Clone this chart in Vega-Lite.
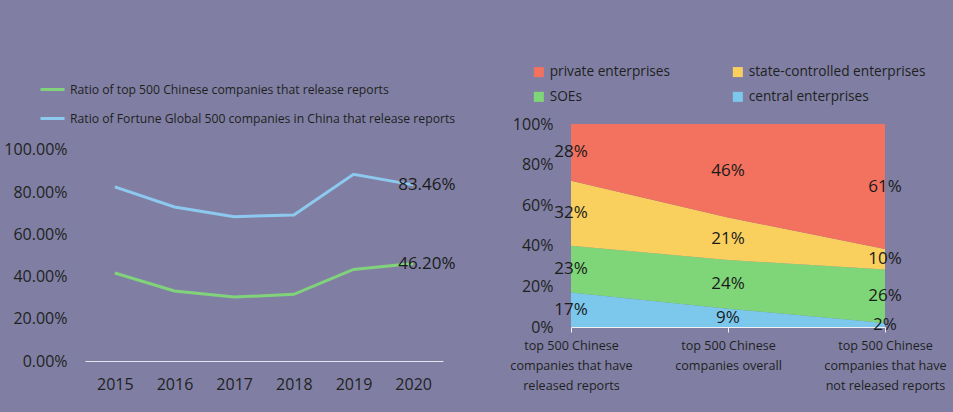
{
  "$schema": "https://vega.github.io/schema/vega-lite/v6.json",
  "background": "#807FA3",
  "padding": {"left": 3, "top": 65, "right": 8, "bottom": 35},
  "spacing": 53,
  "resolve": {"scale": {"color": "independent", "y": "independent"}, "legend": {"color": "independent"}},
  "config": {
    "view": {"stroke": null},
    "font": "Open Sans",
    "axis": {"labelColor": "#1f1f1f", "grid": false, "title": null},
    "legend": {"labelColor": "#1f1f1f", "title": null}
  },
  "hconcat": [
    {
      "width": 358,
      "height": 237,
      "data": {
        "values": [
          {"year": 2015, "series": "Ratio of top 500 Chinese companies that release reports", "ratio": 0.417},
          {"year": 2016, "series": "Ratio of top 500 Chinese companies that release reports", "ratio": 0.332},
          {"year": 2017, "series": "Ratio of top 500 Chinese companies that release reports", "ratio": 0.303},
          {"year": 2018, "series": "Ratio of top 500 Chinese companies that release reports", "ratio": 0.316},
          {"year": 2019, "series": "Ratio of top 500 Chinese companies that release reports", "ratio": 0.434},
          {"year": 2020, "series": "Ratio of top 500 Chinese companies that release reports", "ratio": 0.462},
          {"year": 2015, "series": "Ratio of Fortune Global 500 companies in China that release reports", "ratio": 0.825},
          {"year": 2016, "series": "Ratio of Fortune Global 500 companies in China that release reports", "ratio": 0.730},
          {"year": 2017, "series": "Ratio of Fortune Global 500 companies in China that release reports", "ratio": 0.684},
          {"year": 2018, "series": "Ratio of Fortune Global 500 companies in China that release reports", "ratio": 0.692},
          {"year": 2019, "series": "Ratio of Fortune Global 500 companies in China that release reports", "ratio": 0.885},
          {"year": 2020, "series": "Ratio of Fortune Global 500 companies in China that release reports", "ratio": 0.8346}
        ]
      },
      "encoding": {
        "x": {
          "field": "year", "type": "ordinal",
          "axis": {"labelAngle": 0, "labelFontSize": 16, "labelPadding": 15, "ticks": false, "domainColor": "#e4e4ec"}
        },
        "y": {
          "field": "ratio", "type": "quantitative",
          "scale": {"domain": [0, 1.1232]},
          "axis": {"values": [0, 0.2, 0.4, 0.6, 0.8, 1], "format": ".2%", "labelFontSize": 16, "labelPadding": 18, "domain": false, "ticks": false}
        }
      },
      "layer": [
        {
          "mark": {"type": "line", "strokeWidth": 3},
          "encoding": {
            "color": {
              "field": "series", "type": "nominal",
              "scale": {
                "domain": ["Ratio of top 500 Chinese companies that release reports", "Ratio of Fortune Global 500 companies in China that release reports"],
                "range": ["#80D37B", "#8DC8EE"]
              },
              "legend": {
                "orient": "none", "legendX": -46, "legendY": -48,
                "symbolType": "stroke", "symbolSize": 576, "symbolStrokeWidth": 3,
                "labelFontSize": 12.2, "rowPadding": 9, "labelLimit": 500
              }
            }
          }
        },
        {
          "transform": [{"filter": "datum.year == 2020"}],
          "mark": {"type": "text", "align": "left", "dx": -15, "fontSize": 17, "color": "#1a1a1a"},
          "encoding": {"text": {"field": "ratio", "type": "quantitative", "format": ".2%"}}
        }
      ]
    },
    {
      "width": 314,
      "height": 203,
      "data": {
        "values": [
          {"group": "top 500 Chinese companies that have released reports", "type": "central enterprises", "share": 0.17},
          {"group": "top 500 Chinese companies that have released reports", "type": "SOEs", "share": 0.23},
          {"group": "top 500 Chinese companies that have released reports", "type": "state-controlled enterprises", "share": 0.32},
          {"group": "top 500 Chinese companies that have released reports", "type": "private enterprises", "share": 0.28},
          {"group": "top 500 Chinese companies overall", "type": "central enterprises", "share": 0.09},
          {"group": "top 500 Chinese companies overall", "type": "SOEs", "share": 0.24},
          {"group": "top 500 Chinese companies overall", "type": "state-controlled enterprises", "share": 0.21},
          {"group": "top 500 Chinese companies overall", "type": "private enterprises", "share": 0.46},
          {"group": "top 500 Chinese companies that have not released reports", "type": "central enterprises", "share": 0.02},
          {"group": "top 500 Chinese companies that have not released reports", "type": "SOEs", "share": 0.26},
          {"group": "top 500 Chinese companies that have not released reports", "type": "state-controlled enterprises", "share": 0.10},
          {"group": "top 500 Chinese companies that have not released reports", "type": "private enterprises", "share": 0.61}
        ]
      },
      "transform": [
        {"calculate": "indexof(['central enterprises', 'SOEs', 'state-controlled enterprises', 'private enterprises'], datum.type)", "as": "stack_order"}
      ],
      "encoding": {
        "x": {
          "field": "group", "type": "ordinal",
          "sort": ["top 500 Chinese companies that have released reports", "top 500 Chinese companies overall", "top 500 Chinese companies that have not released reports"],
          "scale": {"padding": 0},
          "axis": {
            "labelAngle": 0, "labelFontSize": 12.6, "labelLineHeight": 20, "labelPadding": 7,
            "domainColor": "#f0f0f4", "tickColor": "#f0f0f4", "tickSize": 5,
            "labelExpr": "datum.value == 'top 500 Chinese companies overall' ? ['top 500 Chinese', 'companies overall'] : datum.value == 'top 500 Chinese companies that have released reports' ? ['top 500 Chinese', 'companies that have', 'released reports'] : ['top 500 Chinese', 'companies that have', 'not released reports']"
          }
        },
        "order": {"field": "stack_order", "type": "quantitative"}
      },
      "layer": [
        {
          "mark": {"type": "area"},
          "encoding": {
            "y": {
              "field": "share", "type": "quantitative", "stack": "normalize",
              "axis": {"values": [0, 0.2, 0.4, 0.6, 0.8, 1], "format": ".0%", "labelFontSize": 16, "labelPadding": 18, "domain": false, "ticks": false}
            },
            "color": {
              "field": "type", "type": "nominal",
              "scale": {
                "domain": ["private enterprises", "state-controlled enterprises", "SOEs", "central enterprises"],
                "range": ["#F3715F", "#F9D05E", "#7FD679", "#7CC7EC"]
              },
              "legend": {
                "orient": "none", "legendX": -39, "legendY": -59, "columns": 2, "direction": "horizontal",
                "symbolType": "square", "symbolSize": 100, "symbolStrokeWidth": 0, "labelLimit": 400,
                "labelFontSize": 13.7, "columnPadding": 60, "rowPadding": 10
              }
            }
          }
        },
        {
          "mark": {"type": "text", "fontSize": 17, "color": "#1a1a1a"},
          "encoding": {
            "y": {"field": "share", "type": "quantitative", "stack": "normalize", "bandPosition": 0.5},
            "detail": {"field": "type"},
            "text": {"field": "share", "type": "quantitative", "format": ".0%"}
          }
        }
      ]
    }
  ]
}
